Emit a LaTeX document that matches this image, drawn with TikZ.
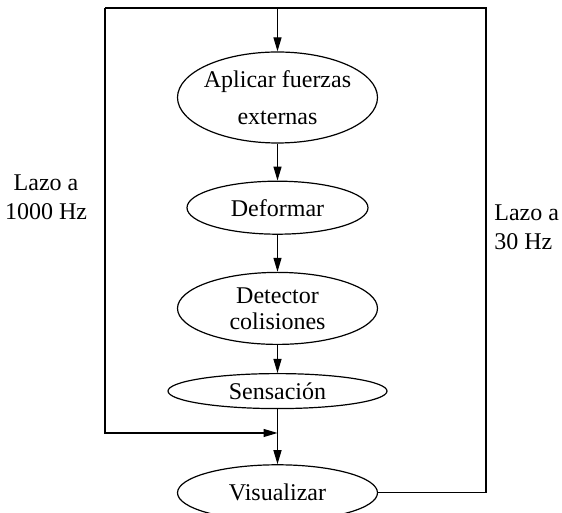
\documentclass[tikz,border=0pt]{standalone}
\usepackage{fontspec}
\setmainfont{Liberation Serif}
\usepackage{tikz}
\usetikzlibrary{arrows.meta, positioning, shapes.geometric}
\tikzset{
  oval/.style={draw, ellipse, line width=0.6pt, align=center, inner xsep=-3pt, inner ysep=0pt, font=\fontsize{12}{14.4}\selectfont},
  arrow/.style={-{Triangle[length=7pt, width=4pt]}, line width=0.6pt},
  loopline/.style={line width=0.6pt},
  looptext/.style={align=center, inner sep=0pt, font=\fontsize{12}{14.4}\selectfont}
}

\begin{document}
\begin{tikzpicture}
\useasboundingbox (0,0) rectangle (281pt,256.5pt);
\node[oval, minimum width=100pt, minimum height=45.5pt] (aplicar) at (138.75pt,207.75pt) {Aplicar fuerzas\\[4pt]externas};
\node[oval, below=18.5pt of aplicar, minimum width=90.5pt, minimum height=26.5pt] (deformar) {Deformar};
\node[oval, below=18.5pt of deformar, minimum width=100pt, minimum height=36pt] (detector) {Detector\\[-1.4pt]colisiones};
\node[oval, below=14pt of detector, minimum width=109.5pt, minimum height=17.5pt] (sensacion) {Sensación};
\node[oval, below=27.5pt of sensacion, minimum width=100pt, minimum height=28pt] (visualizar) {Visualizar};

% lazos
\coordinate (topleft) at (52.5pt,252.5pt);
\coordinate (topright) at (243pt,252.5pt);
\coordinate (topmid) at (aplicar |- topleft);
\coordinate (join) at (sensacion |- 0,40pt);
\node[looptext] (lazomil) at (23pt,158pt) {Lazo a\\1000 Hz};
\node[looptext, anchor=west, align=left] (lazotreinta) at (247pt,143pt) {Lazo a\\30 Hz};

\draw[arrow] (topmid) -- (aplicar);
\draw[arrow] (aplicar) -- (deformar);
\draw[arrow] (deformar) -- (detector);
\draw[arrow] (detector) -- (sensacion);
\draw[arrow] (sensacion) -- (visualizar);
\draw[loopline] (visualizar.east) -| (topright) -- (topleft);
\draw[arrow] (topleft) |- (join);
\end{tikzpicture}
\end{document}
